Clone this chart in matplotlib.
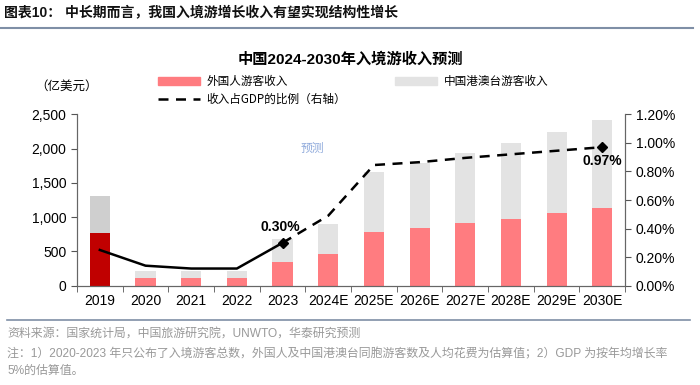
import numpy as np
from matplotlib import pyplot as plt
from matplotlib.ticker import FuncFormatter, FixedLocator

plt.rcParams['font.family'] = ['Liberation Sans', 'Noto Sans CJK SC']

# data
years = ['2019', '2020', '2021', '2022', '2023', '2024E', '2025E',
         '2026E', '2027E', '2028E', '2029E', '2030E']
foreign = [770, 105, 105, 110, 350, 460, 780, 845, 910, 975, 1055, 1135]
total = [1310, 215, 215, 215, 680, 900, 1660, 1790, 1935, 2080, 2245, 2415]
hmt = [t - f for t, f in zip(total, foreign)]
gdp_share = [0.25, 0.14, 0.12, 0.12, 0.30, 0.49, 0.845, 0.865, 0.895,
             0.92, 0.945, 0.97]

pink = '#FF7C80'
dark_red = '#C00000'
grey = '#E3E3E3'
grey_2019 = '#CFCFCF'

fig = plt.figure(figsize=(7, 3.85), dpi=100)
ax = fig.add_axes([0.11, 0.258, 0.783, 0.445])
x = np.arange(len(years))
w = 0.44

fc = [dark_red] + [pink] * (len(years) - 1)
gc = [grey_2019] + [grey] * (len(years) - 1)
ax.bar(x, foreign, w, color=fc)
ax.bar(x, hmt, w, bottom=foreign, color=gc)

ax.set_ylim(0, 2500)
ax.set_xlim(-0.5, len(years) - 0.5)
ax.set_yticks(np.arange(0, 2501, 500))
ax.yaxis.set_major_formatter(FuncFormatter(lambda v, p: f'{int(v):,}'))
ax.set_xticks(x)
ax.set_xticklabels(years)
ax.xaxis.set_minor_locator(FixedLocator(np.arange(-0.5, len(years), 1)))
ax.tick_params(axis='x', which='major', length=0, pad=6, labelsize=10)
ax.tick_params(axis='x', which='minor', length=4, color='#555555')
ax.tick_params(axis='y', length=4, color='#555555', labelsize=10)
ax.spines['top'].set_visible(False)
for s in ['left', 'bottom', 'right']:
    ax.spines[s].set_color('#666666')

ax2 = ax.twinx()
ax2.set_ylim(0, 1.2)
ax2.set_yticks(np.arange(0, 1.21, 0.2))
ax2.yaxis.set_major_formatter(FuncFormatter(lambda v, p: f'{v:.2f}%'))
ax2.tick_params(axis='y', length=4, color='#555555', labelsize=10)
ax2.spines['top'].set_visible(False)
for s in ['left', 'bottom', 'right']:
    ax2.spines[s].set_color('#666666')

ax2.plot(x[:5], gdp_share[:5], color='black', lw=1.8)
ax2.plot(x[4:], gdp_share[4:], color='black', lw=1.8, ls=(0, (4, 3)))
ax2.plot([x[4], x[-1]], [gdp_share[4], gdp_share[-1]], 'D', color='black',
         ms=5, ls='none')
ax2.text(x[4] - 0.05, gdp_share[4] + 0.06, f'{gdp_share[4]:.2f}%',
         ha='center', va='bottom', fontsize=10, fontweight='bold')
ax2.text(x[-1], gdp_share[-1] - 0.05, f'{gdp_share[-1]:.2f}%',
         ha='center', va='top', fontsize=10, fontweight='bold')
ax2.text(4.65, 0.96, '预测', color='#8EA9DB', fontsize=8.5,
         style='italic', ha='center', va='center')

# legend
h1 = plt.Rectangle((0, 0), 1, 1, color=pink)
h2 = plt.Rectangle((0, 0), 1, 1, color=grey)
h3, = ax2.plot([], [], color='black', lw=1.8, ls=(0, (4, 3)))
fig.legend([h1, h3, h2], ['外国人游客收入', '收入占GDP的比例（右轴）', '中国港澳台游客收入'],
           ncol=2, loc='upper left', bbox_to_anchor=(0.21, 0.832),
           frameon=False, handlelength=3.6, handleheight=0.7,
           columnspacing=4.2, labelspacing=0.4, handletextpad=0.6,
           prop={'family': ['Noto Sans CJK SC'], 'size': 8.4})

fig.text(0.05, 0.775, '（亿美元）', fontsize=9, va='center')
fig.text(0.5, 0.845, '中国2024-2030年入境游收入预测', ha='center', va='center',
         fontsize=11, fontweight='bold')
fig.text(0.005, 0.965, '图表10： 中长期而言，我国入境游增长收入有望实现结构性增长',
         fontsize=10, fontweight='bold', va='center', color='#111111')
fig.add_artist(plt.Line2D([0, 0.99], [0.928, 0.928], color='#7F8FA6', lw=1.5))
fig.add_artist(plt.Line2D([0.01, 0.985], [0.168, 0.168], color='#7F8FA6', lw=1.2))
fig.text(0.01, 0.133, '资料来源：国家统计局，中国旅游研究院，UNWTO，华泰研究预测',
         fontsize=8.6, color='#999999', va='center')
fig.text(0.01, 0.081, '注：1）2020-2023 年只公布了入境游客总数，外国人及中国港澳台同胞游客数及人均花费为估算值；2）GDP 为按年均增长率',
         fontsize=8.6, color='#999999', va='center')
fig.text(0.01, 0.036, '5%的估算值。', fontsize=8.6, color='#999999', va='center')

fig.savefig('out.png', dpi=100)
